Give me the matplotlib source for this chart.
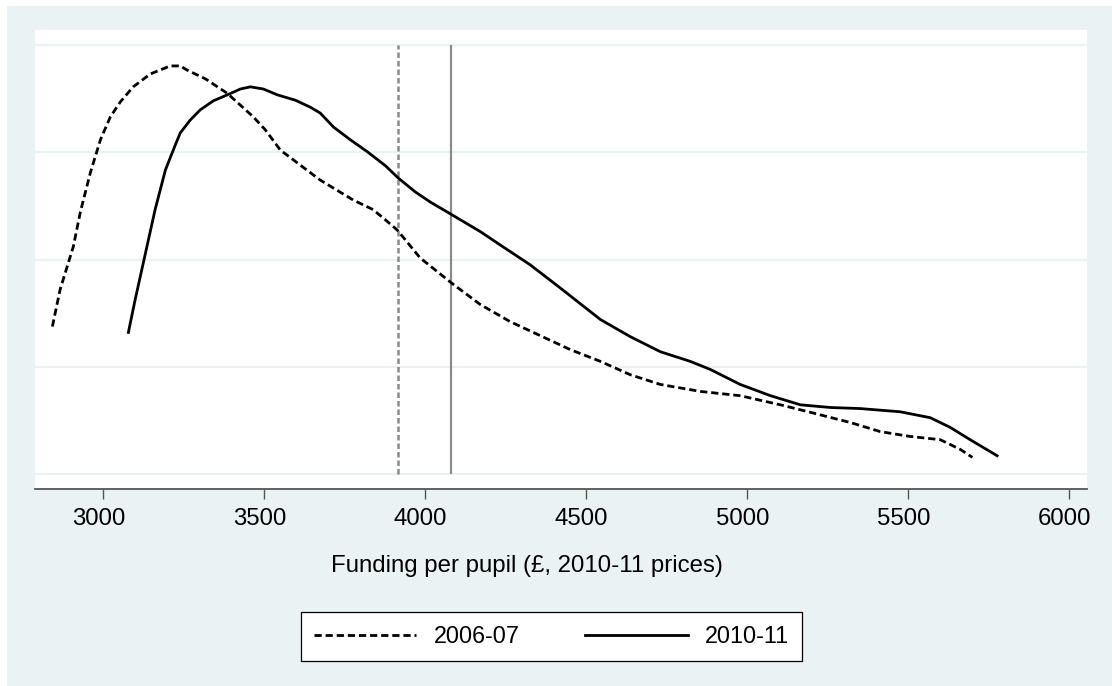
import matplotlib
matplotlib.use("Agg")
import matplotlib.pyplot as plt
import matplotlib.transforms as mtransforms
from matplotlib.patches import Rectangle

plt.rcParams['font.family'] = ['Liberation Sans', 'DejaVu Sans']

SCALE = 1e-4  # density units

x_2006 = [2843, 2867, 2908, 2930, 2961, 2992, 3023, 3054, 3094, 3147, 3209, 3240,
          3262, 3318, 3386, 3467, 3504, 3551, 3613, 3675, 3777, 3839, 3877, 3914,
          3985, 4085, 4172, 4265, 4358, 4451, 4545, 4638, 4731, 4855, 4979, 5104,
          5197, 5321, 5414, 5507, 5600, 5662, 5700]
y_2006 = [2.75, 3.44, 4.24, 4.89, 5.62, 6.23, 6.66, 6.94, 7.22, 7.46, 7.61, 7.61,
          7.53, 7.37, 7.10, 6.66, 6.42, 6.04, 5.76, 5.48, 5.11, 4.93, 4.74, 4.55,
          4.03, 3.55, 3.16, 2.84, 2.58, 2.32, 2.10, 1.85, 1.67, 1.54, 1.46, 1.29,
          1.15, 0.96, 0.79, 0.70, 0.64, 0.46, 0.31]

x_2010 = [3079, 3100, 3131, 3162, 3194, 3225, 3240, 3271, 3302, 3343, 3386, 3427,
          3458, 3498, 3542, 3598, 3644, 3675, 3716, 3769, 3821, 3877, 3917, 3970,
          4017, 4085, 4172, 4234, 4327, 4420, 4545, 4638, 4731, 4824, 4886, 4979,
          5073, 5166, 5259, 5352, 5476, 5569, 5631, 5693, 5777]
y_2010 = [2.64, 3.25, 4.09, 4.93, 5.67, 6.14, 6.36, 6.60, 6.79, 6.96, 7.07, 7.18,
          7.22, 7.18, 7.07, 6.97, 6.84, 6.73, 6.47, 6.23, 6.01, 5.75, 5.52, 5.26,
          5.07, 4.83, 4.52, 4.27, 3.90, 3.47, 2.88, 2.56, 2.28, 2.10, 1.95, 1.67,
          1.46, 1.29, 1.24, 1.22, 1.16, 1.05, 0.87, 0.64, 0.34]

mean_2006 = 3915
mean_2010 = 4082

series_labels = ['2006-07', '2010-11']
xticks = [3000, 3500, 4000, 4500, 5000, 5500, 6000]
ygrid = [0, 2, 4, 6, 8]
xlabel = 'Funding per pupil (£, 2010-11 prices)'

W, H = 1112, 686
BG = '#EAF2F3'
FS = 17.3
fig = plt.figure(figsize=(W / 100, H / 100), dpi=100)
fig.patch.set_facecolor('white')
fig.add_artist(Rectangle((7 / W, 0), 1 - 7 / W, 1 - 6 / H, transform=fig.transFigure,
                         facecolor=BG, edgecolor='none', zorder=-10))

ax = fig.add_axes([35 / W, 1 - 489 / H, (1087 - 35) / W, (489 - 30) / H])
ax.set_facecolor('white')

for g in ygrid:
    ax.axhline(g * SCALE, color=BG, lw=1.6, zorder=1)

ax.vlines(mean_2006, ygrid[0] * SCALE, ygrid[-1] * SCALE, colors='#8a8a8a', lw=1.8,
          linestyles=(0, (2.2, 1.2)), zorder=2)
ax.vlines(mean_2010, ygrid[0] * SCALE, ygrid[-1] * SCALE, colors='#8a8a8a', lw=1.6, zorder=2)

l1, = ax.plot(x_2006, [v * SCALE for v in y_2006], color='black', lw=2.0,
              linestyle=(0, (2.6, 1.4)), label=series_labels[0], zorder=3)
l2, = ax.plot(x_2010, [v * SCALE for v in y_2010], color='black', lw=2.0,
              label=series_labels[1], zorder=3)

ax.set_xlim(2789, 6056)
ax.set_ylim(-0.28 * SCALE, 8.28 * SCALE)
ax.set_xticks(xticks)
ax.set_yticks([])
for s in ['top', 'right', 'left']:
    ax.spines[s].set_visible(False)
ax.spines['bottom'].set_color('#555555')
ax.spines['bottom'].set_linewidth(1.3)
ax.tick_params(axis='x', direction='out', length=7.5, width=1.0, color='#555555',
               labelsize=FS, pad=6.5)
shift = mtransforms.ScaledTranslation(-4.5 / 100, 0, fig.dpi_scale_trans)
for lab in ax.get_xticklabels():
    lab.set_transform(lab.get_transform() + shift)

ax.set_xlabel(xlabel, fontsize=FS)
ax.xaxis.label.set_va('center')
ax.xaxis.set_label_coords((527 - 35) / (1087 - 35), (489 - 566) / (489 - 30))

leg = fig.legend(handles=[l1, l2], loc='center', bbox_to_anchor=(551.5 / W, 1 - 636.5 / H),
                 ncol=2, fontsize=16.8, frameon=True, fancybox=False, framealpha=1,
                 edgecolor='black', handlelength=4.4, handletextpad=0.75,
                 columnspacing=2.8, borderpad=0.55, borderaxespad=0)
leg.get_frame().set_linewidth(0.9)

fig.savefig('out.png', dpi=100, facecolor=fig.get_facecolor())
